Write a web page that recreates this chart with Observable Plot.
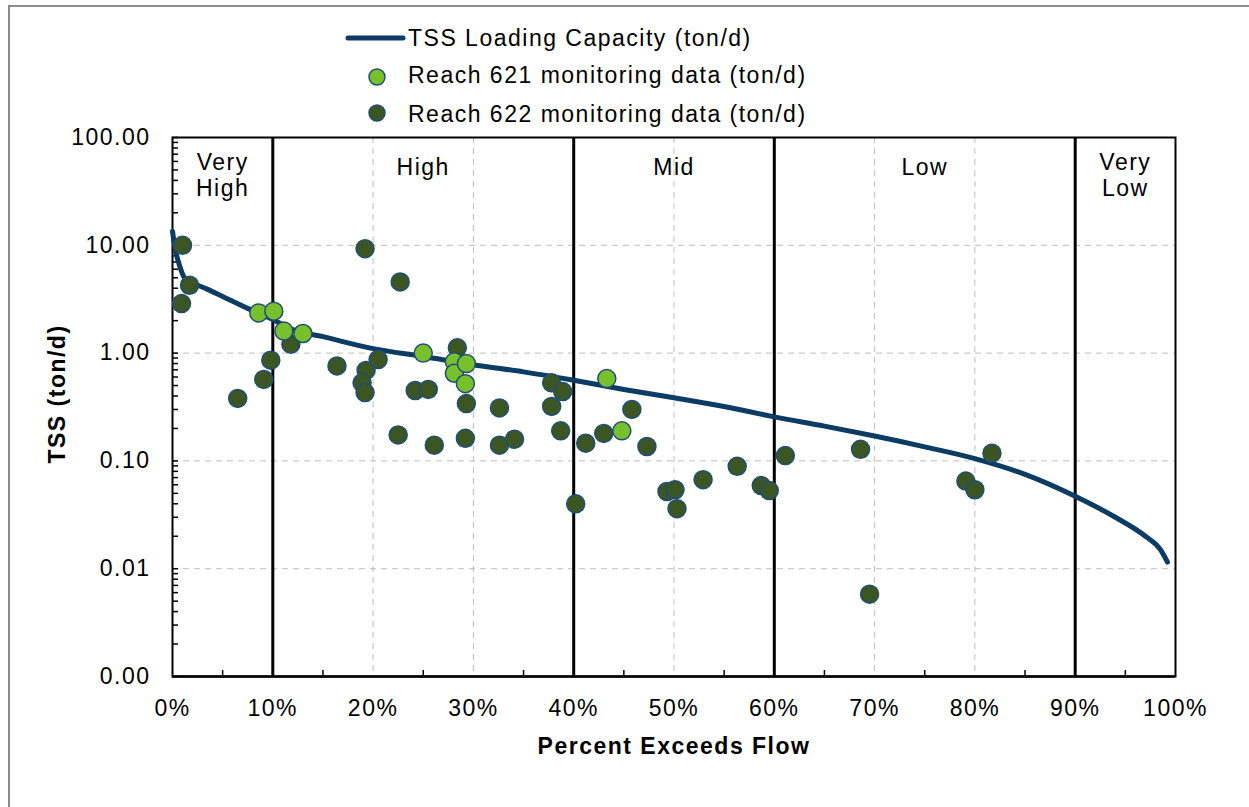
<!DOCTYPE html>
<html>
<head>
<meta charset="utf-8">
<script src="https://cdn.jsdelivr.net/npm/d3@7"></script>
<script src="https://cdn.jsdelivr.net/npm/@observablehq/plot@0.6"></script>
<style>
  body { margin: 0; background: #fff; }
  #wrap { position: relative; width: 1249px; height: 807px; overflow: hidden; background: #fff;
          font-family: "Liberation Sans", Arial, sans-serif; }
  #border { position: absolute; left: 8px; top: 5px; width: 1300px; height: 900px;
            border: 2px solid #8c8c8c; box-sizing: border-box; }
  #chart { position: absolute; left: 0; top: 0; }
  #legend { position: absolute; left: 330px; top: 20px; }
  #legend text { font-family: "Liberation Sans", Arial, sans-serif; font-size: 23px; letter-spacing: 1.5px; fill: #000; }
</style>
</head>
<body>
<div id="wrap">
  <div id="border"></div>
  <div id="chart"></div>
  <svg id="legend" width="560" height="115">
    <line x1="18" x2="73" y1="18" y2="18" stroke="#0c3b63" stroke-width="5" stroke-linecap="round"></line>
    <text x="78" y="26">TSS Loading Capacity (ton/d)</text>
    <circle cx="47" cy="57" r="8" fill="#78c12c" stroke="#1f4e79" stroke-width="1.5"></circle>
    <text x="78" y="63">Reach 621 monitoring data (ton/d)</text>
    <circle cx="47" cy="93" r="8" fill="#3b5623" stroke="#1f4e79" stroke-width="1.5"></circle>
    <text x="78" y="102">Reach 622 monitoring data (ton/d)</text>
  </svg>
</div>
<script>
// ---- Data ----
const capPct = [0, 0.3, 0.7, 1.2, 2, 3.5, 5, 7.5, 10, 12, 15, 20, 25, 30, 35, 40, 45, 50, 55, 60, 65, 70, 75, 80, 85, 90, 94, 97, 98.5, 99.2];
const capVal = [13.5, 9, 6.5, 5.0, 4.5, 3.9, 3.35, 2.6, 2.05, 1.65, 1.42, 1.1, 0.93, 0.78, 0.67, 0.56, 0.46, 0.385, 0.32, 0.256, 0.21, 0.17, 0.135, 0.105, 0.075, 0.047, 0.03, 0.02, 0.015, 0.0115];

const r621Pct = [8.6, 10.1, 11.1, 13.0, 25.0, 28.1, 28.1, 29.3, 29.2, 43.3, 44.8];
const r621Val = [2.36, 2.45, 1.6, 1.52, 1.0, 0.83, 0.65, 0.80, 0.52, 0.58, 0.19];

const r622Pct = [1.0, 1.7, 0.9, 11.8, 9.8, 9.1, 6.5,
  19.2, 22.7, 16.4, 20.5, 19.3, 18.9, 19.2, 28.4, 29.3, 24.2, 25.5, 32.6, 22.5, 26.1, 29.2, 32.6, 34.1, 37.8, 38.9, 37.8, 38.7, 41.2,
  43.0, 45.8, 47.3, 40.2, 49.3, 50.1, 50.3, 52.9, 56.3, 58.7, 59.5, 61.1,
  68.6, 69.5, 79.1, 80.0, 81.7];
const r622Val = [10, 4.26, 2.88, 1.21, 0.86, 0.57, 0.38,
  9.3, 4.57, 0.76, 0.87, 0.69, 0.53, 0.43, 1.12, 0.34, 0.45, 0.46, 0.31, 0.174, 0.14, 0.162, 0.14, 0.159, 0.53, 0.44, 0.32, 0.19, 0.146,
  0.18, 0.30, 0.136, 0.040, 0.052, 0.054, 0.036, 0.067, 0.089, 0.059, 0.053, 0.112,
  0.128, 0.0058, 0.065, 0.054, 0.118];

const zoneNames = ["Very\nHigh", "High", "Mid", "Low", "Very\nLow"];
const zoneBounds = [0, 10, 40, 60, 90, 100];
const xTicks = [0, 10, 20, 30, 40, 50, 60, 70, 80, 90, 100];
const xMinorTicks = [5, 15, 25, 35, 45, 55, 65, 75, 85, 95];
const xGrid = [20, 30, 50, 70, 80];
const yTicks = [0.001, 0.01, 0.1, 1, 10, 100];
const yGrid = [0.01, 0.1, 1, 10];

// ---- Tables built from the arrays ----
const capacity = capPct.map((p, i) => ({pct: p, val: capVal[i]}));
const r621 = r621Pct.map((p, i) => ({pct: p, val: r621Val[i]}));
const r622 = r622Pct.map((p, i) => ({pct: p, val: r622Val[i]}));
const zones = zoneNames.map((name, i) => ({name, mid: (zoneBounds[i] + zoneBounds[i + 1]) / 2, two: name.includes("\n")}));
const yMinor = [];
for (let e = -3; e < 2; e++) for (let m = 1; m <= 9; m++) yMinor.push(m * Math.pow(10, e));
yMinor.push(100);

const W = 1249, H = 807, mT = 137, mB = 131, mL = 172, mR = 74;
const frameW = W - mL - mR, frameH = H - mT - mB;

const font = '"Liberation Sans", Arial, sans-serif';
const chart = Plot.plot({
  width: W,
  height: H,
  marginTop: mT,
  marginBottom: mB,
  marginLeft: mL,
  marginRight: mR,
  style: {fontFamily: font, fontSize: "23px", letterSpacing: "1.5px", background: "transparent", color: "#000", overflow: "visible"},
  x: {domain: [0, 100], label: null},
  y: {type: "log", domain: [0.001, 100], label: null},
  marks: [
    Plot.ruleY(yGrid, {stroke: "#bfbfbf", strokeWidth: 1, strokeDasharray: "6,5"}),
    Plot.ruleX(xGrid, {stroke: "#bfbfbf", strokeWidth: 1, strokeDasharray: "6,5"}),
    Plot.ruleX(zoneBounds.slice(1, -1), {stroke: "#000", strokeWidth: 3}),
    Plot.frame({stroke: "#000", strokeWidth: 2}),
    Plot.ruleY([0.001], {stroke: "#000", strokeWidth: 2.5}),
    Plot.tickY(yMinor, {stroke: "#000", strokeWidth: 1.5, insetRight: frameW - 6}),
    Plot.tickX(xMinorTicks, {stroke: "#000", strokeWidth: 1.5, insetTop: frameH - 6}),
    Plot.axisY({ticks: yTicks, tickFormat: d3.format(".2f"), tickSize: 0, tickPadding: 22, label: null}),
    Plot.axisX({ticks: xTicks, tickFormat: d => d + "%", tickSize: 0, tickPadding: 23, label: null}),
    Plot.text(zones.filter(d => d.two), {x: "mid", text: "name", frameAnchor: "top", lineAnchor: "top", dy: 15, lineHeight: 1.1, fill: "#000"}),
    Plot.text(zones.filter(d => !d.two), {x: "mid", text: "name", frameAnchor: "top", lineAnchor: "top", dy: 21, fill: "#000"}),
    Plot.line(capacity, {x: "pct", y: "val", stroke: "#0c3b63", strokeWidth: 5, curve: "monotone-x"}),
    Plot.dot(r622, {x: "pct", y: "val", r: 9, fill: "#3b5623", stroke: "#1f4e79", strokeWidth: 1.5}),
    Plot.dot(r621, {x: "pct", y: "val", r: 9, fill: "#78c12c", stroke: "#1f4e79", strokeWidth: 1.5}),
    Plot.text(["Percent Exceeds Flow"], {frameAnchor: "bottom", lineAnchor: "middle", textAnchor: "middle", dy: 70, fontWeight: "bold", fill: "#000"}),
    Plot.text(["TSS (ton/d)"], {frameAnchor: "left", textAnchor: "middle", lineAnchor: "middle", dx: -115, dy: -13, rotate: -90, fontWeight: "bold", fill: "#000"})
  ]
});
document.getElementById("chart").appendChild(chart);
</script>
</body>
</html>
